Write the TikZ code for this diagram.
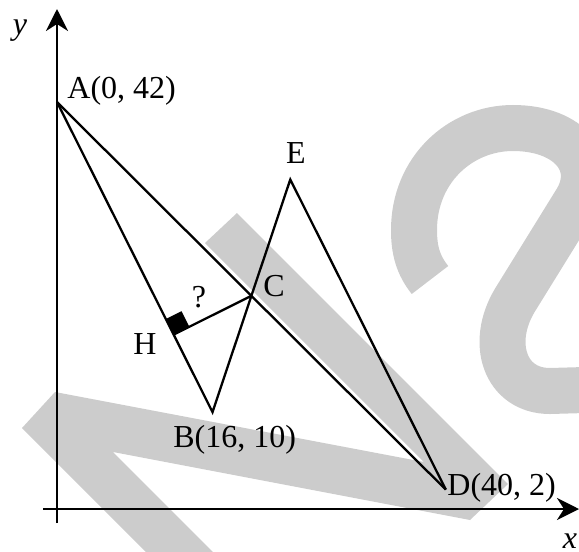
\documentclass[tikz,border=0pt]{standalone}
\usepackage{fontspec}
\setmainfont{Liberation Serif}
\usetikzlibrary{arrows.meta}
\begin{document}
\begin{tikzpicture}[x=0.5pt,y=-0.5pt,
  lbl/.style={inner sep=0pt, font=\fontsize{16}{19}\selectfont},
  ital/.style={inner sep=0pt, font=\fontsize{16}{19}\selectfont\itshape},
  seg/.style={line width=1.15pt, line join=miter},
  axis/.style={line width=1.35pt, -{Stealth[length=11pt,width=11pt,inset=3.5pt]}},
  wm/.style={fill=black!20},
  wmline/.style={draw=black!20, line width=23pt}]
\useasboundingbox (0,0) rectangle (579,552);
% watermark
\begin{scope}
\clip (0,0) rectangle (579,552);
\fill[wm] (160,566) -- (22,428) -- (55,392) -- (424,462) -- (205,243) -- (237,213) -- (508,484) -- (470,520) -- (113,452) -- (227,566) -- cycle;
\draw[wmline] (430,280) .. controls (418,265) and (414,250) .. (414,230)
  .. controls (414,170) and (460,128) .. (513,128)
  .. controls (570,128) and (600,165) .. (575,203) -- (515,300)
  .. controls (489,343) and (505,391) .. (550,391) -- (620,389);
\end{scope}
% axes
\coordinate (xs) at (43,509);
\coordinate (xe) at (579,509);
\coordinate (ys) at (57,523);
\coordinate (ye) at (57,9);
\draw[axis] (xs) -- (xe);
\draw[axis] (ys) -- (ye);
% geometry
\begin{scope}[shift={(28.5pt,-254.5pt)}, x=4.86pt, y=4.845pt]
\coordinate (A) at (0,42);
\coordinate (B) at (16,10);
\coordinate (C) at (20,22);
\coordinate (D) at (40,2);
\coordinate (E) at (24,34);
\coordinate (H) at (12,18);
\fill (H) -- ++(1.61,0.805) -- ++(-0.805,1.61) -- ++(-1.61,-0.805) -- cycle;
\draw[seg] (A) -- (B) -- (E) -- (D);
\draw[seg] (A) -- (D);
\draw[seg] (H) -- (C);
\end{scope}
% labels
\node[ital, anchor=base] (ylab) at (20,34.5) {y};
\node[lbl, anchor=base west] (Alab) at (67,98) {A(0, 42)};
\node[lbl, anchor=base] (Elab) at (296,163) {E};
\node[lbl, anchor=base west] (Clab) at (263,296) {C};
\node[lbl, anchor=base] (qlab) at (199,307) {?};
\node[lbl, anchor=base] (Hlab) at (145,354) {H};
\node[lbl, anchor=base west] (Blab) at (173,447) {B(16, 10)};
\node[lbl, anchor=base west] (Dlab) at (447,495) {D(40, 2)};
\node[ital, anchor=base] (xlab) at (570,548) {x};
\end{tikzpicture}
\end{document}
